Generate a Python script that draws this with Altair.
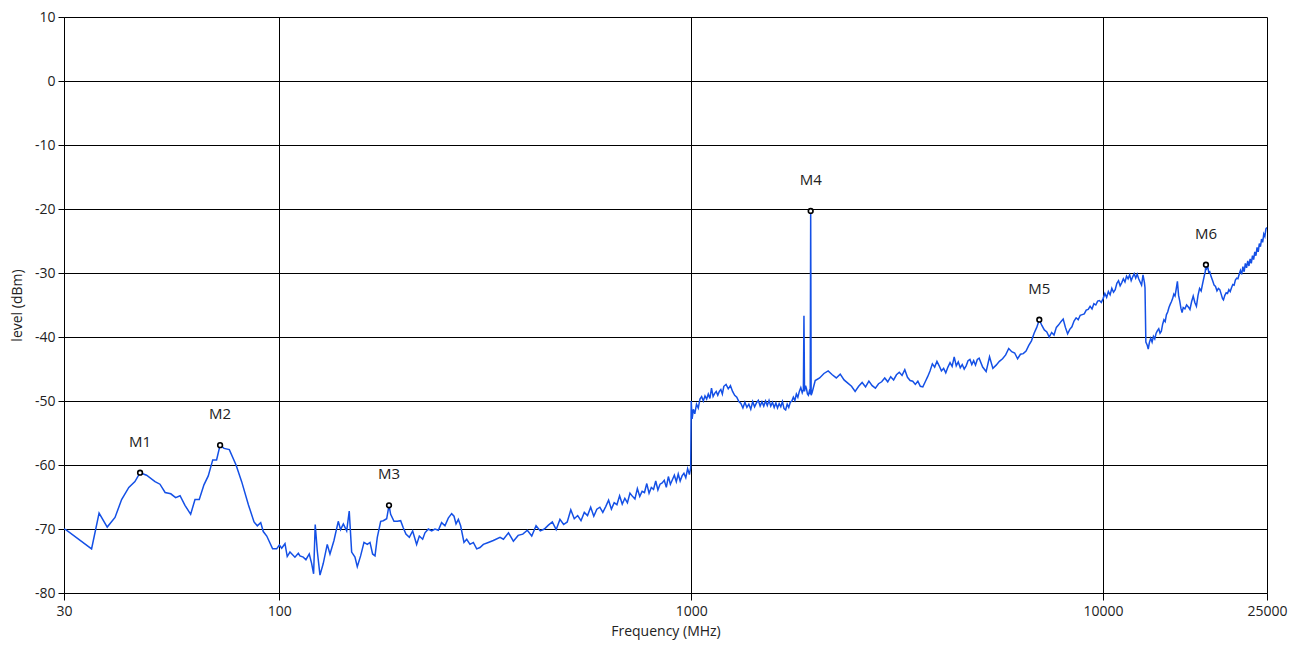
import altair as alt
import pandas as pd

FONT = "Open Sans"

# ---- trace: 30 - 111 MHz ----
A_f = [30.0, 30.3, 35.0, 36.5, 38.2, 39.9, 41.4, 43.1, 44.6, 45.9,
       47.6, 49.9, 51.3, 52.8, 54.5, 56.0, 57.4, 59.0, 60.9, 62.4,
       63.9, 65.6, 67.2, 68.9, 70.4, 71.8, 73.4, 75.6, 78.5, 81.0,
       84.1, 86.8, 88.4, 90.1, 91.4, 93.2, 96.3, 98.5, 100.0, 101.3,
       103.2, 104.5, 106.1, 109.1, 111.2]
A_l = [-70.0, -70.1, -73.1, -67.5, -69.7, -68.2, -65.4, -63.5, -62.6, -61.2,
       -61.6, -62.6, -63.0, -64.3, -64.5, -65.1, -64.8, -66.3, -67.7, -65.4,
       -65.4, -63.1, -61.7, -59.2, -59.2, -56.9, -57.4, -57.6, -60.0, -62.6,
       -66.2, -68.9, -69.5, -69.0, -70.4, -71.1, -73.1, -73.1, -72.5, -73.0,
       -72.3, -74.3, -73.6, -74.4, -73.8]

# ---- trace: 112 - 343 MHz ----
B_f = [112.2, 114.3, 116.0, 118.2, 119.8, 121.1, 122.2, 123.6, 125.5, 127.8,
       130.7, 132.7, 135.7, 139.0, 140.8, 143.0, 145.7, 147.8, 149.8, 152.6,
       154.6, 157.5, 160.5, 163.5, 166.0, 168.4, 170.7, 172.9, 176.2, 178.8,
       182.2, 184.6, 186.3, 189.8, 193.3, 197.0, 199.9, 202.9, 206.8, 210.7,
       215.4, 218.7, 222.8, 225.7, 230.0, 234.3, 238.7, 243.2, 247.7, 252.4,
       257.1, 262.0, 265.5, 268.5, 272.0, 275.5, 280.7, 285.0, 290.3, 295.8,
       301.4, 307.0, 312.8, 321.6, 330.7, 343.4]
B_l = [-74.2, -74.4, -74.8, -73.9, -75.4, -77.0, -69.3, -73.4, -77.2, -75.4,
       -72.4, -73.9, -71.8, -68.8, -70.1, -69.2, -70.3, -67.2, -73.6, -74.4,
       -75.9, -74.2, -72.1, -72.4, -72.1, -73.9, -74.2, -71.3, -68.8, -68.7,
       -68.4, -66.3, -67.7, -68.8, -68.8, -68.7, -69.8, -70.8, -71.3, -70.3,
       -72.4, -71.1, -71.6, -70.6, -70.0, -70.3, -70.0, -70.2, -69.0, -69.5,
       -68.3, -67.6, -68.0, -69.2, -68.5, -69.5, -72.1, -71.6, -72.4, -72.1,
       -73.1, -72.9, -72.4, -72.1, -71.8, -71.3]

# ---- trace: 350 - 1000 MHz ----
C_f = [350, 360, 370, 380, 390, 400, 410, 420, 430, 440,
       450, 460, 470, 480, 490, 500, 510, 520, 530, 540,
       550, 560, 570, 580, 590, 600, 610, 620, 630, 640,
       650, 660, 670, 680, 690, 700, 710, 720, 730, 740,
       750, 760, 770, 780, 790, 800, 810, 820, 830, 840,
       850, 860, 870, 880, 890, 900, 910, 920, 930, 940,
       950, 960, 970, 980, 990, 997, 1000]
C_l = [-71.6, -70.6, -71.9, -71.0, -70.8, -70.2, -71.1, -69.5, -70.3, -70.0,
       -69.4, -68.9, -70.1, -68.5, -69.3, -68.9, -67.0, -68.4, -67.9, -68.7,
       -67.4, -67.9, -66.6, -68.0, -66.9, -66.6, -67.4, -66.5, -65.5, -66.9,
       -65.9, -66.2, -64.8, -66.1, -65.2, -65.9, -64.4, -64.9, -65.3, -63.7,
       -64.9, -64.1, -64.3, -62.9, -64.4, -63.5, -63.8, -62.5, -63.9, -63.0,
       -62.8, -62.4, -63.5, -61.8, -63.0, -62.3, -61.6, -62.6, -61.4, -62.5,
       -61.7, -61.3, -62.0, -60.6, -61.5, -60.4, -50.0]

# ---- trace: 1005 - 1980 MHz ----
D_f = [1005, 1012, 1020, 1030, 1040, 1050, 1060, 1070, 1080, 1090,
       1100, 1110, 1120, 1130, 1140, 1150, 1160, 1170, 1180, 1190,
       1200, 1215, 1230, 1245, 1260, 1275, 1290, 1305, 1320, 1335,
       1350, 1365, 1380, 1395, 1410, 1425, 1440, 1455, 1470, 1485,
       1500, 1515, 1530, 1545, 1560, 1575, 1590, 1605, 1620, 1635,
       1650, 1665, 1680, 1695, 1710, 1725, 1740, 1755, 1770, 1785,
       1800, 1815, 1830, 1845, 1860, 1872, 1878, 1884, 1895, 1905,
       1915, 1925, 1935, 1945, 1950, 1955, 1965, 1980]
D_l = [-52.8, -51.3, -52.0, -50.5, -51.1, -49.7, -49.3, -50.0, -49.2, -49.7,
       -48.9, -49.6, -48.0, -49.3, -48.8, -48.5, -49.1, -48.5, -48.2, -48.9,
       -47.7, -47.4, -48.1, -47.6, -48.5, -49.1, -49.4, -50.1, -50.4, -51.1,
       -50.2, -51.0, -50.5, -51.3, -50.1, -50.9, -50.3, -49.9, -50.8, -50.1,
       -50.8, -50.0, -50.7, -49.9, -50.8, -50.2, -51.0, -50.3, -51.1, -50.4,
       -50.9, -50.1, -51.2, -51.4, -50.5, -51.0, -50.2, -50.0, -49.4, -49.9,
       -48.9, -49.4, -48.5, -47.9, -48.7, -48.2, -36.7, -48.5, -47.6, -48.1,
       -48.9, -49.1, -48.5, -48.9, -20.3, -49.1, -48.7, -47.9]

# ---- trace: 2000 - 5000 MHz ----
E_f = [2000, 2050, 2100, 2150, 2200, 2250, 2300, 2350, 2400, 2450,
       2500, 2550, 2600, 2650, 2700, 2750, 2800, 2850, 2900, 2950,
       3000, 3050, 3100, 3150, 3200, 3250, 3300, 3350, 3400, 3450,
       3500, 3550, 3600, 3650, 3700, 3750, 3800, 3850, 3900, 3950,
       4000, 4050, 4100, 4150, 4200, 4250, 4300, 4350, 4400, 4450,
       4500, 4550, 4600, 4650, 4700, 4750, 4800, 4850, 4900, 4950,
       5000]
E_l = [-46.8, -46.4, -45.7, -45.3, -45.9, -46.4, -45.8, -46.7, -47.2, -47.7,
       -48.5, -47.7, -47.1, -47.8, -46.9, -47.6, -48.0, -47.3, -47.0, -46.4,
       -47.0, -46.2, -46.7, -45.9, -45.5, -46.0, -45.1, -46.3, -46.8, -46.9,
       -47.4, -46.9, -47.7, -47.8, -47.0, -46.2, -45.3, -44.2, -44.7, -43.8,
       -44.5, -45.3, -44.9, -45.6, -44.7, -44.0, -44.6, -43.1, -44.5, -43.9,
       -44.8, -44.3, -45.0, -44.5, -43.7, -43.5, -44.3, -43.7, -44.4, -43.5,
       -43.3]

# ---- trace: 5100 - 9900 MHz ----
F_f = [5100, 5200, 5300, 5400, 5500, 5600, 5700, 5800, 5900, 6000,
       6100, 6200, 6300, 6400, 6500, 6600, 6700, 6800, 6900, 7000,
       7100, 7200, 7300, 7400, 7500, 7600, 7700, 7800, 7900, 8000,
       8100, 8200, 8300, 8400, 8500, 8600, 8700, 8800, 8900, 9000,
       9100, 9200, 9300, 9400, 9500, 9600, 9700, 9800, 9900]
F_l = [-44.7, -45.4, -43.1, -44.9, -44.4, -43.8, -43.4, -42.8, -41.8, -42.3,
       -42.5, -43.4, -42.7, -42.6, -42.2, -41.3, -40.6, -39.4, -38.5, -37.3,
       -38.2, -38.9, -39.2, -40.0, -39.3, -39.7, -38.5, -38.1, -37.6, -37.2,
       -38.5, -39.5, -38.8, -38.4, -37.5, -37.0, -37.3, -36.6, -36.5, -36.4,
       -35.8, -35.7, -35.2, -35.6, -34.8, -35.0, -34.4, -34.3, -34.6]

# ---- trace: 10000 - 25000 MHz ----
G_f = [10000, 10100, 10200, 10300, 10400, 10500, 10600, 10700, 10800, 10900,
       11000, 11100, 11200, 11300, 11400, 11500, 11600, 11700, 11800, 11900,
       12000, 12100, 12200, 12300, 12400, 12500, 12600, 12640, 12700, 12800,
       12870, 12950, 13050, 13150, 13250, 13350, 13450, 13550, 13650, 13750,
       13850, 13950, 14050, 14150, 14250, 14350, 14450, 14550, 14650, 14750,
       14850, 14950, 15050, 15150, 15250, 15350, 15450, 15550, 15650, 15800,
       15950, 16100, 16250, 16400, 16550, 16700, 16850, 17000, 17150, 17300,
       17450, 17600, 17700, 17770, 17850, 17950, 18050, 18150, 18300, 18450,
       18600, 18750, 18900, 19050, 19200, 19350, 19500, 19600, 19750, 19900,
       20050, 20200, 20350, 20500, 20650, 20800, 20950, 21100, 21250, 21400,
       21550, 21700, 21850, 22000, 22150, 22300, 22450, 22600, 22750, 22900,
       23050, 23200, 23350, 23500, 23650, 23800, 23950, 24100, 24250, 24400,
       24550, 24700, 24850, 25000]
G_l = [-34.0, -33.2, -33.8, -32.9, -33.4, -32.4, -33.0, -32.6, -31.6, -31.2,
       -32.0, -31.5, -30.9, -31.4, -30.5, -30.9, -30.3, -31.2, -30.6, -30.1,
       -30.8, -30.2, -30.9, -31.4, -31.9, -30.3, -31.5, -32.3, -40.8, -41.3,
       -41.9, -40.9, -40.2, -40.8, -39.9, -40.3, -39.4, -39.0, -38.7, -39.4,
       -39.1, -38.0, -37.3, -37.6, -36.5, -36.1, -35.4, -34.9, -34.5, -34.0,
       -33.3, -33.6, -32.5, -31.3, -33.5, -34.4, -35.5, -36.2, -35.4, -35.6,
       -35.0, -35.3, -35.7, -34.5, -33.6, -34.6, -35.2, -33.5, -32.4, -32.8,
       -31.6, -30.5, -29.8, -28.7, -29.3, -29.0, -29.9, -29.8, -30.6, -31.2,
       -31.9, -32.1, -32.8, -32.4, -32.6, -33.3, -34.0, -34.2, -33.5, -33.1,
       -33.2, -32.6, -32.9, -32.3, -31.8, -31.9, -31.1, -30.8, -30.9, -30.2,
       -29.6, -30.2, -29.0, -29.8, -28.5, -29.2, -28.1, -28.9, -27.8, -28.5,
       -27.3, -27.9, -26.7, -27.3, -26.0, -26.7, -25.4, -25.9, -24.7, -25.2,
       -23.9, -24.3, -23.1, -22.9]

# ---- markers ----
marker_names = ["M1", "M2", "M3", "M4", "M5", "M6"]
marker_freq = [45.9, 71.8, 184.6, 1950, 7000, 17770]
marker_level = [-61.2, -56.9, -66.3, -20.3, -37.3, -28.7]

# ---- axes ----
x_ticks = [30, 100, 1000, 10000, 25000]
y_ticks = [-80, -70, -60, -50, -40, -30, -20, -10, 0, 10]

freq = A_f + B_f + C_f + D_f + E_f + F_f + G_f
level = A_l + B_l + C_l + D_l + E_l + F_l + G_l
assert len(freq) == len(level), (len(freq), len(level))

trace = pd.DataFrame({"freq": freq, "level": level})
markers = pd.DataFrame({"name": marker_names, "freq": marker_freq, "level": marker_level})

x_enc = alt.X(
    "freq:Q",
    scale=alt.Scale(type="log", domain=[30, 25000], nice=False),
    axis=alt.Axis(values=x_ticks, format="d", title="Frequency (MHz)",
                  labelFlush=False, tickSize=7, labelPadding=4, titlePadding=6),
)
y_enc = alt.Y(
    "level:Q",
    scale=alt.Scale(domain=[-80, 10], nice=False),
    axis=alt.Axis(values=y_ticks, labelExpr="datum.value + ''", title="level (dBm)",
                  tickSize=6, labelPadding=3, titlePadding=10),
)

line = alt.Chart(trace).mark_line(color="#1450e6", strokeWidth=1.5, clip=True).encode(
    x=x_enc, y=y_enc
)
pts = alt.Chart(markers).mark_point(
    shape="circle", filled=True, fill="white", stroke="black", strokeWidth=1.6, size=22, opacity=1
).encode(x="freq:Q", y="level:Q")
labels = alt.Chart(markers).mark_text(
    dy=-31, fontSize=15, font=FONT, color="#222222"
).encode(x="freq:Q", y="level:Q", text="name:N")

chart = (
    alt.layer(line, pts, labels)
    .properties(
        width=1203,
        height=576,
        autosize=alt.AutoSizeParams(type="none"),
        padding={"left": 56, "top": 9, "right": 25, "bottom": 60},
        background="white",
    )
    .configure_view(stroke="transparent")
    .configure_axis(
        grid=True,
        gridColor="#000000",
        gridWidth=1,
        gridOpacity=1,
        domainColor="#000000",
        tickColor="#000000",
        labelColor="#222222",
        titleColor="#222222",
        labelFont=FONT,
        titleFont=FONT,
        labelFontSize=14,
        titleFontSize=14,
        titleFontWeight="normal",
    )
)

chart.save("out.html", embed_options={"renderer": "svg", "actions": False})
